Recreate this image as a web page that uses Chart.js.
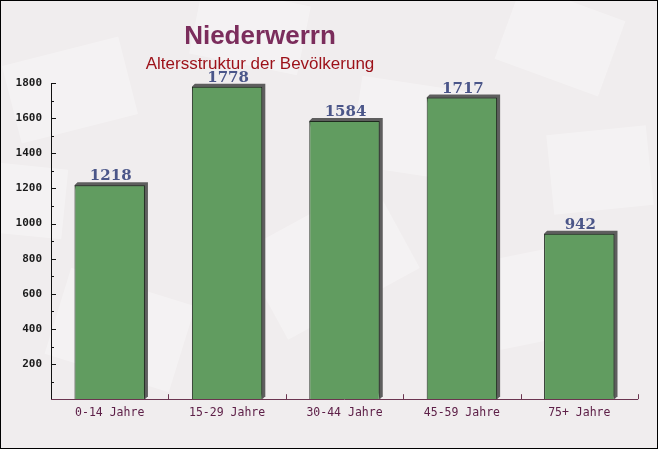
<!DOCTYPE html>
<html>
<head>
<meta charset="utf-8">
<script src="https://cdn.jsdelivr.net/npm/chart.js@4/dist/chart.umd.min.js"></script>
<style>
  html, body { margin: 0; padding: 0; background: #f1eeef; }
  #wrap { width: 658px; height: 449px; }
</style>
</head>
<body>
<div id="wrap"><canvas id="ageChart" width="658" height="449"></canvas></div>
<script>
// Data
const titleText = 'Niederwerrn';
const subtitleText = 'Altersstruktur der Bevölkerung';
const categories = ['0-14 Jahre', '15-29 Jahre', '30-44 Jahre', '45-59 Jahre', '75+ Jahre'];
const population = [1218, 1778, 1584, 1717, 942];
const yTicks = [200, 400, 600, 800, 1000, 1200, 1400, 1600, 1800];

const ctx = document.getElementById('ageChart').getContext('2d');

// background with faint paper shapes + outer border
const backdrop = {
  id: 'backdrop',
  beforeDraw(chart) {
    const c = chart.ctx;
    c.save();
    c.fillStyle = '#f0edee';
    c.fillRect(0, 0, chart.width, chart.height);
    const shapes = [
      [70, 90, 120, 80, -0.25], [250, 30, 110, 70, 0.2], [420, 130, 130, 90, 0.15],
      [560, 40, 110, 80, 0.35], [330, 260, 150, 100, -0.5], [120, 330, 130, 90, 0.3],
      [520, 300, 140, 90, -0.2], [20, 200, 90, 70, 0.1], [600, 170, 100, 80, -0.1]
    ];
    c.fillStyle = 'rgba(255,255,255,0.3)';
    shapes.forEach(([x, y, w, h, r]) => {
      c.save();
      c.translate(x, y);
      c.rotate(r);
      c.fillRect(-w / 2, -h / 2, w, h);
      c.restore();
    });
    c.restore();
  },
  afterDraw(chart) {
    const c = chart.ctx;
    c.save();
    // titles (centred a bit left of the canvas middle, like the original)
    c.textAlign = 'center';
    c.textBaseline = 'alphabetic';
    c.fillStyle = '#7b2d5c';
    c.font = 'bold 26px "Liberation Sans", sans-serif';
    c.fillText(titleText, 260, 44);
    c.fillStyle = '#9c1018';
    c.font = '17px "Liberation Sans", sans-serif';
    c.fillText(subtitleText, 260, 69);
    c.strokeStyle = '#000';
    c.lineWidth = 1;
    c.strokeRect(0.5, 0.5, chart.width - 1, chart.height - 1);
    c.restore();
  }
};

// 3d-ish shadow behind each bar, offset up and right
const barShadow = {
  id: 'barShadow',
  beforeDatasetsDraw(chart) {
    const c = chart.ctx;
    const meta = chart.getDatasetMeta(0);
    const d = 3;
    c.save();
    c.fillStyle = '#5e5e5e';
    meta.data.forEach(bar => {
      const left = bar.x - bar.width / 2, right = bar.x + bar.width / 2;
      const top = bar.y, bottom = bar.base;
      c.beginPath();
      c.moveTo(left, top);
      c.lineTo(left + d, top - d);
      c.lineTo(right + d, top - d);
      c.lineTo(right + d, bottom - d);
      c.lineTo(right, bottom);
      c.closePath();
      c.fill();
    });
    c.restore();
  }
};

// inward axis ticks, minor every 100 on y, category boundaries on x
const axisTicks = {
  id: 'axisTicks',
  afterDatasetsDraw(chart) {
    const c = chart.ctx;
    const y = chart.scales.y;
    const area = chart.chartArea;
    c.save();
    c.lineWidth = 1;
    c.strokeStyle = '#111';
    for (let v = 100; v <= 1800; v += 100) {
      const py = Math.round(y.getPixelForValue(v)) + 0.5;
      c.beginPath();
      c.moveTo(area.left, py);
      c.lineTo(area.left + (v % 200 === 0 ? 5 : 3), py);
      c.stroke();
    }
    c.beginPath();
    c.moveTo(Math.round(area.left) + 0.5, y.getPixelForValue(1800));
    c.lineTo(Math.round(area.left) + 0.5, area.bottom);
    c.stroke();
    c.strokeStyle = '#6b3550';
    const step = (area.right - area.left) / categories.length;
    for (let i = 1; i <= categories.length; i++) {
      const px = Math.round(area.left + i * step) + 0.5;
      c.beginPath();
      c.moveTo(px, area.bottom);
      c.lineTo(px, area.bottom - 5);
      c.stroke();
    }
    c.beginPath();
    c.moveTo(area.left, Math.round(area.bottom) + 0.5);
    c.lineTo(area.right, Math.round(area.bottom) + 0.5);
    c.stroke();
    c.restore();
  }
};

// values above the bars
const valueLabels = {
  id: 'valueLabels',
  afterDatasetsDraw(chart) {
    const c = chart.ctx;
    const meta = chart.getDatasetMeta(0);
    c.save();
    c.font = 'bold 15px "DejaVu Serif"';
    c.fillStyle = '#4b5689';
    c.textAlign = 'center';
    c.textBaseline = 'alphabetic';
    meta.data.forEach((bar, i) => {
      c.fillText(String(population[i]), bar.x + 1, bar.y - 5);
    });
    c.restore();
  }
};

new Chart(ctx, {
  type: 'bar',
  data: {
    labels: categories,
    datasets: [{
      data: population,
      backgroundColor: '#619c60',
      borderColor: '#1e2a1e',
      borderWidth: { left: 1, right: 1, top: 1, bottom: 0 },
      borderSkipped: 'bottom',
      barPercentage: 0.6,
      categoryPercentage: 1
    }]
  },
  options: {
    responsive: false,
    animation: false,
    layout: { padding: { left: 0, right: 20, top: 83, bottom: 22 } },
    plugins: {
      legend: { display: false },
      tooltip: { enabled: false },
      title: { display: false }
    },
    scales: {
      x: {
        grid: { display: false, drawTicks: false },
        border: { display: false },
        ticks: {
          color: '#5e2048',
          font: { family: '"DejaVu Sans Mono", monospace', size: 11.5 },
          padding: 7
        }
      },
      y: {
        min: 0,
        max: 1800,
        afterFit(scale) { scale.width = 51; },
        afterBuildTicks(scale) { scale.ticks = yTicks.map(v => ({ value: v })); },
        grid: { display: false, drawTicks: false },
        border: { display: false },
        ticks: {
          color: '#1a1a1a',
          font: { family: '"DejaVu Sans Mono", monospace', size: 11, weight: 'bold' },
          padding: 9,
          callback: v => String(v)
        }
      }
    }
  },
  plugins: [backdrop, barShadow, axisTicks, valueLabels]
});
</script>
</body>
</html>
